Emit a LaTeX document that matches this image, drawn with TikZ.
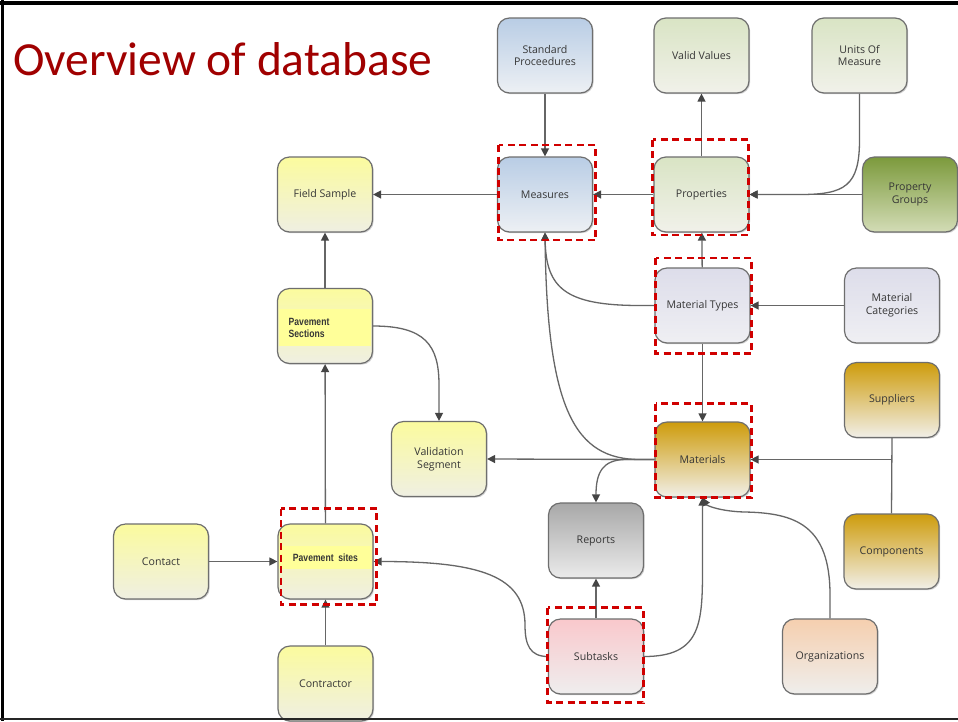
\documentclass[tikz,border=0pt]{standalone}
\usepackage{fontspec}
\setmainfont{Open Sans}
\newfontfamily\titlefont{Carlito}
\newfontfamily\narrowfont[FakeStretch=0.82]{Liberation Sans}
\usetikzlibrary{arrows.meta,shadows}
\definecolor{titlered}{HTML}{A00000}
\definecolor{boxline}{HTML}{6E6E6E}
\definecolor{conncol}{HTML}{666666}
\definecolor{tipcol}{HTML}{454545}
\definecolor{txt}{HTML}{363636}
\definecolor{dashred}{HTML}{D00000}
\definecolor{blueT}{HTML}{B9CDE5}\definecolor{blueB}{HTML}{EDF0F4}
\definecolor{grnT}{HTML}{D9E4C4}\definecolor{grnB}{HTML}{F1F1EA}
\definecolor{oliveT}{HTML}{7C9A3C}\definecolor{oliveB}{HTML}{D3DCB6}
\definecolor{yelT}{HTML}{FBFB9E}\definecolor{yelB}{HTML}{EFEFE2}
\definecolor{yelband}{HTML}{FFFF99}
\definecolor{lavT}{HTML}{DDDDEA}\definecolor{lavB}{HTML}{EFEFF3}
\definecolor{goldT}{HTML}{CE9C0C}\definecolor{goldB}{HTML}{F1EFE8}
\definecolor{grayT}{HTML}{A8A8A8}\definecolor{grayB}{HTML}{EBEBEB}
\definecolor{pinkT}{HTML}{F9C8CC}\definecolor{pinkB}{HTML}{EFEEEE}
\definecolor{peachT}{HTML}{F5CFAF}\definecolor{peachB}{HTML}{EFEEEC}
\tikzset{
  dbbox/.style={draw=boxline, line width=1.2pt, rounded corners=12pt,
    minimum width=95pt, minimum height=75pt, inner sep=2pt, align=center,
    font=\fontsize{10.6}{12.6}\selectfont, text=txt,
    drop shadow={shadow xshift=1.2pt, shadow yshift=-1.2pt, opacity=0.18, fill=black}},
  fblue/.style={dbbox, top color=blueT, bottom color=blueB},
  fgrn/.style={dbbox, top color=grnT, bottom color=grnB},
  folive/.style={dbbox, top color=oliveT, bottom color=oliveB},
  fyel/.style={dbbox, top color=yelT, bottom color=yelB},
  flav/.style={dbbox, top color=lavT, bottom color=lavB},
  fgold/.style={dbbox, top color=goldT, bottom color=goldB},
  fgray/.style={dbbox, top color=grayT, bottom color=grayB},
  fpink/.style={dbbox, top color=pinkT, bottom color=pinkB},
  fpeach/.style={dbbox, top color=peachT, bottom color=peachB},
  conn/.style={draw=conncol, line width=1.3pt},
  arr/.style={conn, -{Triangle[length=8pt,width=8pt,fill=tipcol,color=tipcol]}},
  redbox/.style={draw=dashred, line width=2.8pt, dash pattern=on 7pt off 4.5pt},
  band/.style={fill=yelband},
  boldnarrow/.style={font=\narrowfont\bfseries\fontsize{10.5}{11.5}\selectfont, text=txt, inner sep=0pt}
}
\begin{document}
\begin{tikzpicture}[x=1pt,y=-1pt]
\useasboundingbox (0,0) rectangle (958,721);
\fill[white] (0,0) rectangle (958,721);

% title
\node[anchor=base west, inner sep=0pt, text=titlered, font=\titlefont\fontsize{47.5}{50}\selectfont] (title) at (13,75) {Overview of database};

% nodes
\node[fblue] (std) at (545,55.5) {Standard\\Proceedures};
\node[fgrn] (valid) at (701.5,55.5) {Valid Values};
\node[fgrn] (units) at (859.5,55.5) {Units Of\\Measure};
\node[fblue] (meas) at (545,194.5) {Measures};
\node[fgrn] (prop) at (701.5,194.5) {Properties};
\node[folive] (pgroup) at (910,194.5) {Property\\Groups};
\node[fyel] (field) at (325,194.5) {Field Sample};
\node[fyel] (pavsec) at (325,326) {};
\node[flav] (mtypes) at (702.5,305.5) {Material Types};
\node[flav] (mcat) at (892,305.5) {Material\\Categories};
\node[fgold] (suppl) at (892,400) {Suppliers};
\node[fyel] (valseg) at (439,459) {Validation\\Segment};
\node[fgold] (mat) at (702.5,459.5) {Materials};
\node[fgray] (rep) at (596,540.5) {Reports};
\node[fgold] (comp) at (891.5,551.5) {Components};
\node[fyel] (contact) at (161,561.5) {Contact};
\node[fyel] (pavsites) at (325.5,561.5) {};
\node[fpink] (sub) at (596,656.5) {Subtasks};
\node[fpeach] (org) at (830,656.5) {Organizations};
\node[fyel] (contr) at (325.5,683.5) {Contractor};

% highlighted bands and bold labels
\fill[band] (278.8,309) rectangle (371.2,346);
\node[boldnarrow, anchor=west, align=left] (pavsectxt) at (288.5,328) {Pavement\\[0.5pt]Sections};
\fill[band] (279.3,546) rectangle (371.7,569);
\node[boldnarrow] (pavsitestxt) at (325.5,558) {Pavement\ \ sites};

% connectors
\draw[arr] (std) -- (meas);
\draw[arr] (prop) -- (valid);
\draw[arr] (units.south) -- (859.5,140) .. controls (859.5,186) and (845,194.5) .. (800,194.5) -- (prop.east);
\draw[arr] (pgroup) -- (prop);
\draw[arr] (prop) -- (meas);
\draw[arr] (meas) -- (field);
\draw[arr] (pavsec) -- (field);
\draw[arr] (pavsec.east) .. controls (425,326) and (439,345) .. (439,385) -- (valseg.north);
\draw[arr] (mtypes.west) -- (640,305.5) .. controls (565,305.5) and (546,288) .. (meas.south);
\draw[arr] (mtypes) -- (prop);
\draw[arr] (mcat) -- (mtypes);
\draw[arr] (mtypes) -- (mat);
\draw[arr] (mat.west) -- (640,459.5) .. controls (575,459.5) and (547,410) .. (meas.south);
\draw[arr] (mat.west) -- (valseg.east);
\draw[arr] (mat.west) -- (625,459.5) .. controls (603,460) and (596,472) .. (rep.north);
\coordinate (junc) at (891.5,459.5);
\draw[conn] (suppl.south) -- (comp.north);
\draw[arr] (junc) -- (mat.east);
\draw[arr] (org.north) -- (830,595) .. controls (830,525) and (795,513) .. (745,512) .. controls (722,511.5) and (707,506) .. (mat.south);
\draw[arr] (sub.east) .. controls (700,656.5) and (702.5,625) .. (702.5,570) -- (mat.south);
\draw[arr] (sub) -- (rep);
\draw[arr] (sub.west) .. controls (530,656.5) and (525,645) .. (525,625) .. controls (525,576) and (480,561.5) .. (pavsites.east);
\draw[arr] (contact) -- (pavsites);
\draw[arr] (contr) -- (pavsites);
\draw[arr] (pavsites) -- (pavsec);

% red dashed highlight boxes
\draw[redbox] (498.5,145) rectangle (595.5,240);
\draw[redbox] (652.5,139.5) rectangle (748.5,235);
\draw[redbox] (655.5,258) rectangle (751.5,353.5);
\draw[redbox] (655.5,403.5) rectangle (751.5,497.5);
\draw[redbox] (281,508.5) rectangle (376.5,604.5);
\draw[redbox] (547.5,607.5) rectangle (643.5,702.5);

% frame
\draw[black, line width=4pt] (0,3) -- (958,3);
\draw[black, line width=3pt] (2.5,0) -- (2.5,721);
\draw[black!85, line width=2.5pt] (0,719) -- (958,719);
\end{tikzpicture}
\end{document}
